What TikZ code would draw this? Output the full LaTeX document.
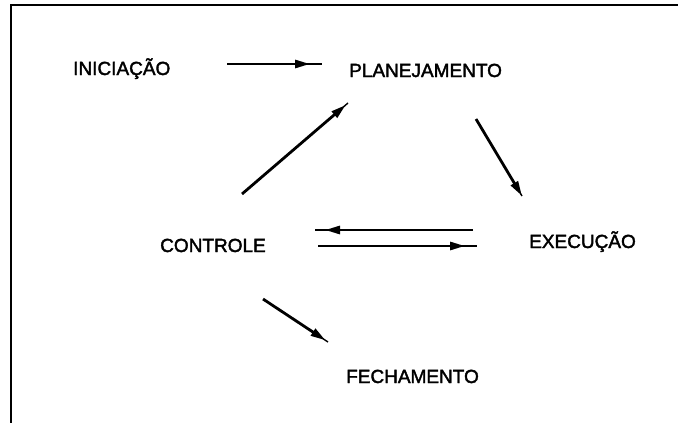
\documentclass[tikz,border=0pt]{standalone}
\usepackage{fontspec}
\newfontfamily\phasefont{Liberation Sans}[FakeBold=2]
\usetikzlibrary{arrows.meta,calc}
\tikzset{
  phase/.style={anchor=base west, inner sep=0pt, font=\phasefont\fontsize{19}{22}\selectfont},
  frameline/.style={line width=2.2pt},
  flowline/.style={line width=2.8pt, -{Triangle[length=15pt,width=8pt]}},
  flowtail/.style={line width=1.4pt}
}
% arrow with a slim filled head and a short thin tail past the head
\newcommand\flowarrow[3]{%
  \draw[flowtail] ($(#2)!#3+3pt!(#1)$) -- (#2);
  \draw[flowline] (#1) -- ($(#2)!#3!(#1)$);}
\begin{document}
\begin{tikzpicture}[x=1pt,y=-1pt]
  \useasboundingbox (0,0) rectangle (678,423);
  % open frame: top and left edges only
  \draw[frameline] (11,423) -- (11,5) -- (678,5);

  % process phases
  \node[phase] (ini)  at (73,75)   {INICIAÇÃO};
  \node[phase] (plan) at (349,77)  {PLANEJAMENTO};
  \node[phase] (ctrl) at (160,252) {CONTROLE};
  \node[phase] (exec) at (529,248) {EXECUÇÃO};
  \node[phase] (fech) at (346,383) {FECHAMENTO};

  % arrow end points
  \coordinate (ini-out)   at (227,64);
  \coordinate (plan-in)   at (322,64);
  \coordinate (ctrl-up)   at (242,194);
  \coordinate (plan-low)  at (348,103);
  \coordinate (plan-out)  at (476,119);
  \coordinate (exec-in)   at (522,196);
  \coordinate (exec-back) at (473,230);
  \coordinate (ctrl-back) at (315,230);
  \coordinate (ctrl-out)  at (318,246);
  \coordinate (exec-fwd)  at (477,246);
  \coordinate (ctrl-down) at (263,299);
  \coordinate (fech-in)   at (328,342);

  \flowarrow{ini-out}{plan-in}{12pt}
  \flowarrow{ctrl-up}{plan-low}{3pt}
  \flowarrow{plan-out}{exec-in}{0pt}
  \flowarrow{exec-back}{ctrl-back}{10pt}
  \flowarrow{ctrl-out}{exec-fwd}{12pt}
  \flowarrow{ctrl-down}{fech-in}{3pt}
\end{tikzpicture}
\end{document}
